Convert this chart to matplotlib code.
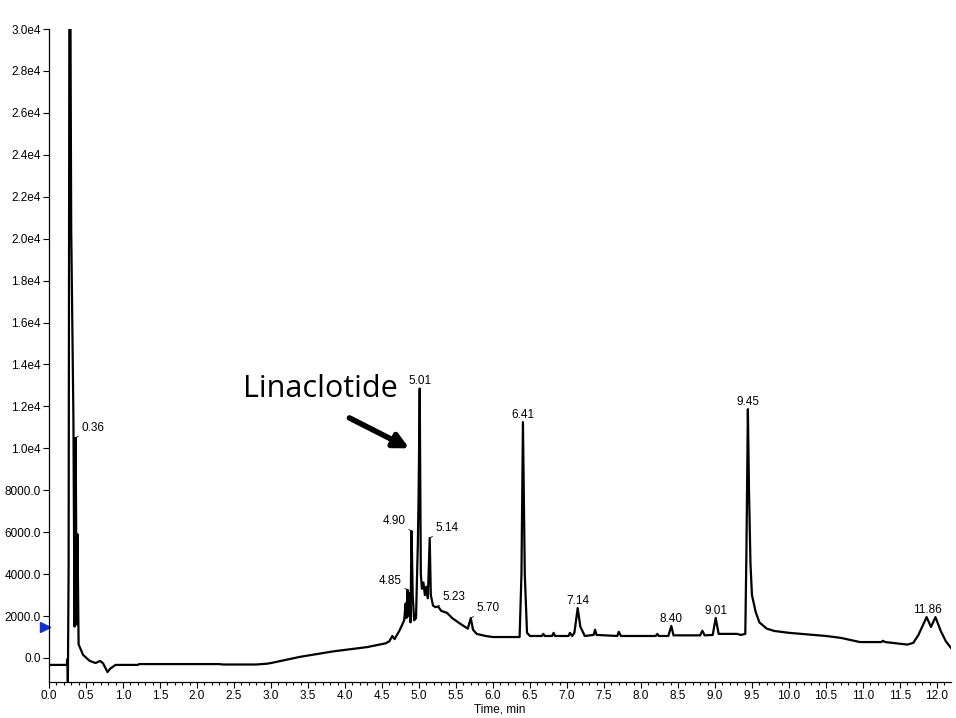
import matplotlib
matplotlib.use("Agg")
from matplotlib import pyplot as plt
from matplotlib.ticker import MultipleLocator, FuncFormatter

# chromatogram trace (time in min, intensity in cps)
time_min = [0.00, 0.24, 0.25, 0.255, 0.265, 0.275, 0.29, 0.30, 0.33, 0.345,
            0.36, 0.375, 0.385, 0.40, 0.46, 0.55, 0.63, 0.69, 0.73, 0.79,
            0.83, 0.90, 1.20, 1.22, 2.30, 2.35, 2.80, 2.95, 3.00, 3.40,
            3.85, 4.30, 4.55, 4.60, 4.64, 4.67, 4.74, 4.80, 4.82, 4.83,
            4.845, 4.86, 4.875, 4.885, 4.90, 4.915, 4.935, 4.96, 4.985, 4.995,
            5.01, 5.025, 5.04, 5.06, 5.08, 5.10, 5.12, 5.145, 5.16, 5.19,
            5.22, 5.26, 5.30, 5.38, 5.45, 5.55, 5.66, 5.70, 5.73, 5.78,
            5.90, 6.00, 6.36, 6.385, 6.405, 6.43, 6.46, 6.50, 6.66, 6.68,
            6.70, 6.80, 6.82, 6.84, 7.02, 7.04, 7.07, 7.10, 7.145, 7.18,
            7.24, 7.36, 7.38, 7.40, 7.68, 7.70, 7.73, 8.20, 8.22, 8.24,
            8.37, 8.41, 8.44, 8.80, 8.83, 8.86, 8.97, 9.01, 9.05, 9.30,
            9.35, 9.41, 9.425, 9.445, 9.46, 9.48, 9.50, 9.55, 9.60, 9.70,
            9.80, 10.00, 10.50, 10.70, 10.96, 11.25, 11.27, 11.30, 11.60, 11.68,
            11.75, 11.86, 11.92, 11.98, 12.05, 12.12, 12.19]
intensity = [-330, -330, -50, -1150, 4300, 30500, 30500, 20500, 11400, 1500,
             10500, 1600, 5900, 650, 150, -140, -240, -140, -250, -670,
             -500, -330, -330, -290, -290, -310, -310, -270, -240, 60,
             320, 520, 700, 800, 1050, 900, 1330, 1800, 2600, 1900,
             3250, 2000, 3100, 1700, 6050, 3000, 1800, 1900, 5500, 7800,
             12850, 4000, 3300, 3600, 3000, 3400, 2850, 5720, 3000, 2500,
             2430, 2450, 2250, 2150, 1900, 1650, 1400, 1900, 1350, 1150,
             1050, 1000, 1000, 4000, 11250, 4000, 1200, 1050, 1050, 1150,
             1050, 1050, 1200, 1050, 1050, 1200, 1050, 1200, 2380, 1500,
             1050, 1100, 1350, 1100, 1050, 1250, 1050, 1050, 1150, 1050,
             1050, 1530, 1080, 1080, 1300, 1080, 1100, 1910, 1150, 1150,
             1100, 1150, 5000, 11870, 8000, 4500, 3000, 2200, 1700, 1400,
             1290, 1200, 1050, 960, 760, 760, 820, 760, 640, 720,
             1100, 1950, 1480, 1950, 1300, 800, 480]

# labelled peaks: text, retention time, apex height
peak_text = ["0.36", "4.85", "4.90", "5.01", "5.14", "5.23", "5.70",
             "6.41", "7.14", "8.40", "9.01", "9.45", "11.86"]
peak_rt = [0.36, 4.845, 4.90, 5.01, 5.145, 5.24, 5.70,
           6.405, 7.145, 8.41, 9.01, 9.445, 11.87]
peak_height = [10500, 3250, 6050, 12850, 5720, 2430, 1900,
               11250, 2380, 1530, 1910, 11870, 1950]

plt.rcParams['font.family'] = ['Liberation Sans', 'DejaVu Sans']

fig = plt.figure(figsize=(9.56, 7.18), dpi=100)
ax = fig.add_axes([49 / 956, 36 / 718, 902 / 956, 653 / 718])

ax.plot(time_min, intensity, color='black', lw=1.6)

ax.set_xlim(0, 12.19)
ax.set_ylim(-1145, 30000)

ax.spines['top'].set_visible(False)
ax.spines['right'].set_visible(False)
ax.spines['left'].set_linewidth(0.9)
ax.spines['bottom'].set_linewidth(0.9)

ax.xaxis.set_major_locator(MultipleLocator(0.5))
ax.xaxis.set_minor_locator(MultipleLocator(0.1))
ax.yaxis.set_major_locator(MultipleLocator(2000))
ax.xaxis.set_major_formatter(FuncFormatter(lambda v, p: f"{v:.1f}"))


def yfmt(v, p):
    if v >= 1e4:
        return f"{v / 1e4:.1f}e4"
    return f"{v:.1f}"


ax.yaxis.set_major_formatter(FuncFormatter(yfmt))
ax.tick_params(axis='both', which='major', labelsize=8.5, length=4, width=0.8, pad=2)
ax.tick_params(axis='x', which='minor', length=2.5, width=0.8)
ax.set_xlabel('Time, min', fontsize=8.5, labelpad=1)

# blue marker on the y axis
ax.plot([-0.05], [1480], marker='>', color='#1030d0', ms=7, clip_on=False, ls='none')

# peak labels (offsets in points: dx, dy, ha, leader)
offsets = {
    "0.36": (4, 3, 'left', True),
    "4.85": (-4, 2, 'right', True),
    "4.90": (-4, 3, 'right', True),
    "5.14": (4, 3, 'left', True),
    "5.23": (4, 3, 'left', True),
    "5.70": (4, 3, 'left', True),
}
for txt, rt, h in zip(peak_text, peak_rt, peak_height):
    dx, dy, ha, lead = offsets.get(txt, (0, 1, 'center', False))
    ax.annotate(txt, xy=(rt, h), xytext=(dx, dy), textcoords='offset points',
                ha=ha, va='bottom', fontsize=8.5,
                arrowprops=dict(arrowstyle='-', lw=0.6, color='black',
                                shrinkA=0, shrinkB=0) if lead else None)

ax.annotate('Linaclotide', xy=(4.86, 10000), xytext=(3.67, 12850),
            fontsize=22, family='Open Sans', ha='center', va='center')
ax.annotate('', xy=(4.87, 10000), xytext=(4.06, 11450),
            arrowprops=dict(arrowstyle='-|>', lw=4, color='black',
                            mutation_scale=22, shrinkA=0, shrinkB=0))

plt.savefig('out.png', dpi=100)
